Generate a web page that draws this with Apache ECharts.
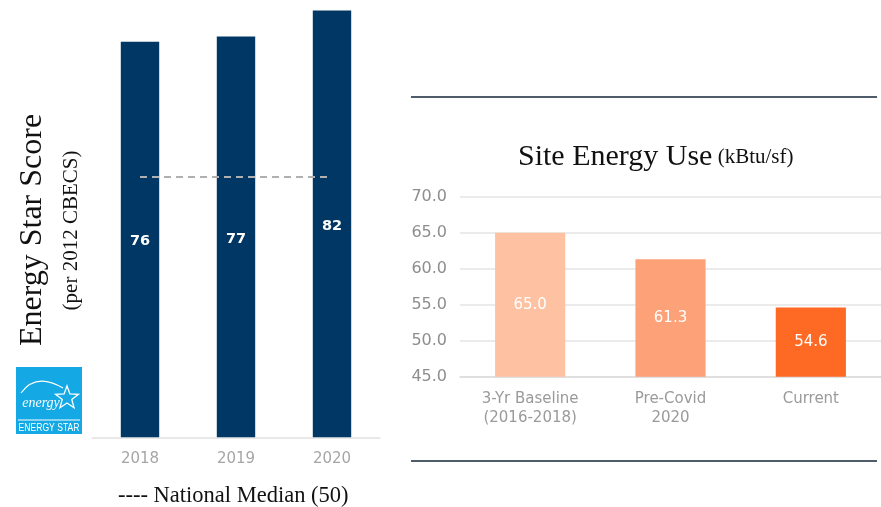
<!DOCTYPE html>
<html>
<head>
<meta charset="utf-8">
<script src="https://cdn.jsdelivr.net/npm/echarts@6/dist/echarts.min.js"></script>
<style>
html,body{margin:0;padding:0;background:#fff;}
#main{width:881px;height:507px;}
</style>
</head>
<body>
<div id="main"></div>
<script>
// ---- data ----
const years = ['2018', '2019', '2020'];
const energyStarScores = [76, 77, 82];
const nationalMedian = [50, 50, 50];

const siteCategories = ['3-Yr Baseline\n(2016-2018)', 'Pre-Covid\n2020', 'Current'];
const siteEnergyUse = [65.0, 61.3, 54.6];
const siteColors = ['#FEC1A2', '#FDA179', '#FE6A24'];
const siteAxisMin = 45, siteAxisMax = 70, siteAxisStep = 5;

const serif = '"Liberation Serif", "DejaVu Serif", serif';
const sans = '"DejaVu Sans", "Liberation Sans", sans-serif';

const chart = echarts.init(document.getElementById('main'), null, {renderer: 'canvas'});

function starPoints(cx, cy, R, r) {
  const pts = [];
  for (let i = 0; i < 10; i++) {
    const a = -Math.PI / 2 + i * Math.PI / 5;
    const rr = i % 2 === 0 ? R : r;
    pts.push([cx + rr * Math.cos(a), cy + rr * Math.sin(a)]);
  }
  return pts;
}

const option = {
  backgroundColor: '#ffffff',
  animation: false,
  title: {
    left: 513, top: 137,
    text: '{a|Site Energy Use}{b| (kBtu/sf)}',
    textStyle: {
      fontWeight: 'normal',
      rich: {
        a: {fontFamily: serif, fontSize: 30, fontWeight: 'normal', color: '#111111'},
        b: {fontFamily: serif, fontSize: 21, fontWeight: 'normal', color: '#111111'}
      }
    }
  },
  grid: [
    {left: 92, width: 288, top: 0, height: 437.3},
    {left: 460, width: 422, top: 196.7, height: 180}
  ],
  xAxis: [
    {
      gridIndex: 0, type: 'category', data: years,
      axisLine: {lineStyle: {color: '#e2e2e2', width: 1.5}},
      axisTick: {show: false},
      axisLabel: {color: '#a6a6a6', fontFamily: sans, fontSize: 15, margin: 14}
    },
    {
      gridIndex: 1, type: 'category', data: siteCategories,
      axisLine: {lineStyle: {color: '#dcdcdc', width: 1.5}},
      axisTick: {show: false},
      axisLabel: {color: '#9a9a9a', fontFamily: sans, fontSize: 15, lineHeight: 19, margin: 13}
    }
  ],
  yAxis: [
    {gridIndex: 0, type: 'value', min: 0, max: 84, show: false},
    {
      gridIndex: 1, type: 'value', min: siteAxisMin, max: siteAxisMax, interval: siteAxisStep,
      axisLine: {show: false}, axisTick: {show: false},
      splitLine: {lineStyle: {color: '#e4e4e4', width: 1.5}},
      axisLabel: {color: '#8e8e8e', fontFamily: sans, fontSize: 16, margin: 13,
        formatter: v => v.toFixed(1)}
    }
  ],
  series: [
    {
      type: 'bar', xAxisIndex: 0, yAxisIndex: 0, data: energyStarScores,
      barWidth: '40%',
      itemStyle: {color: '#003764'},
      label: {show: true, position: 'inside', color: '#ffffff', fontFamily: sans,
        fontSize: 14.5, fontWeight: 'bold', offset: [0, 2]}
    },
    {
      type: 'line', xAxisIndex: 0, yAxisIndex: 0, data: nationalMedian,
      symbol: 'none', z: 5,
      lineStyle: {color: '#b0b0b0', width: 2, type: [7, 5]}
    },
    {
      type: 'bar', xAxisIndex: 1, yAxisIndex: 1,
      data: siteEnergyUse.map((v, i) => ({value: v, itemStyle: {color: siteColors[i]}})),
      barWidth: '50%',
      label: {show: true, position: 'inside', color: '#ffffff', fontFamily: sans,
        fontSize: 15, formatter: p => p.value.toFixed(1)}
    }
  ],
  graphic: [
    // rules around right chart
    {type: 'line', shape: {x1: 411, y1: 97, x2: 877, y2: 97},
      style: {stroke: '#4e5b6a', lineWidth: 2}},
    {type: 'line', shape: {x1: 411, y1: 461, x2: 877, y2: 461},
      style: {stroke: '#4e5b6a', lineWidth: 2}},
    // vertical titles
    {type: 'text', x: 33, y: 230, rotation: Math.PI / 2,
      style: {text: 'Energy Star Score', font: '32px ' + serif, fill: '#111111',
        textAlign: 'center', textVerticalAlign: 'middle'}},
    {type: 'text', x: 71, y: 230.5, rotation: Math.PI / 2,
      style: {text: '(per 2012 CBECS)', font: '21px ' + serif, fill: '#111111',
        textAlign: 'center', textVerticalAlign: 'middle'}},
    // legend note
    {type: 'text', x: 118, y: 496,
      style: {text: '---- National Median (50)', font: '22.5px ' + serif, fill: '#111111',
        textAlign: 'left', textVerticalAlign: 'middle'}},
    // ENERGY STAR logo
    {type: 'group', children: [
      {type: 'rect', shape: {x: 16, y: 367, width: 66, height: 67}, style: {fill: '#14A8E4'}},
      {type: 'line', shape: {x1: 18, y1: 420, x2: 80, y2: 420}, style: {stroke: '#ffffff', lineWidth: 1}},
      {type: 'text', x: 49, y: 428, scaleX: 0.78,
        style: {text: 'ENERGY STAR', font: '11px "Liberation Sans", sans-serif',
          fill: '#ffffff', textAlign: 'center', textVerticalAlign: 'middle'}},
      {type: 'bezierCurve', shape: {x1: 21, y1: 393, x2: 63, y2: 388, cpx1: 36, cpy1: 372},
        style: {stroke: '#ffffff', lineWidth: 1.2, fill: null}},
      {type: 'text', x: 41, y: 403, style: {text: 'energy', font: 'italic 14px ' + serif,
        fill: '#ffffff', textAlign: 'center', textVerticalAlign: 'middle'}},
      {type: 'polygon', shape: {points: starPoints(67, 398, 12, 5)},
        style: {fill: null, stroke: '#ffffff', lineWidth: 1.3}}
    ]}
  ]
};
chart.setOption(option);
</script>
</body>
</html>
